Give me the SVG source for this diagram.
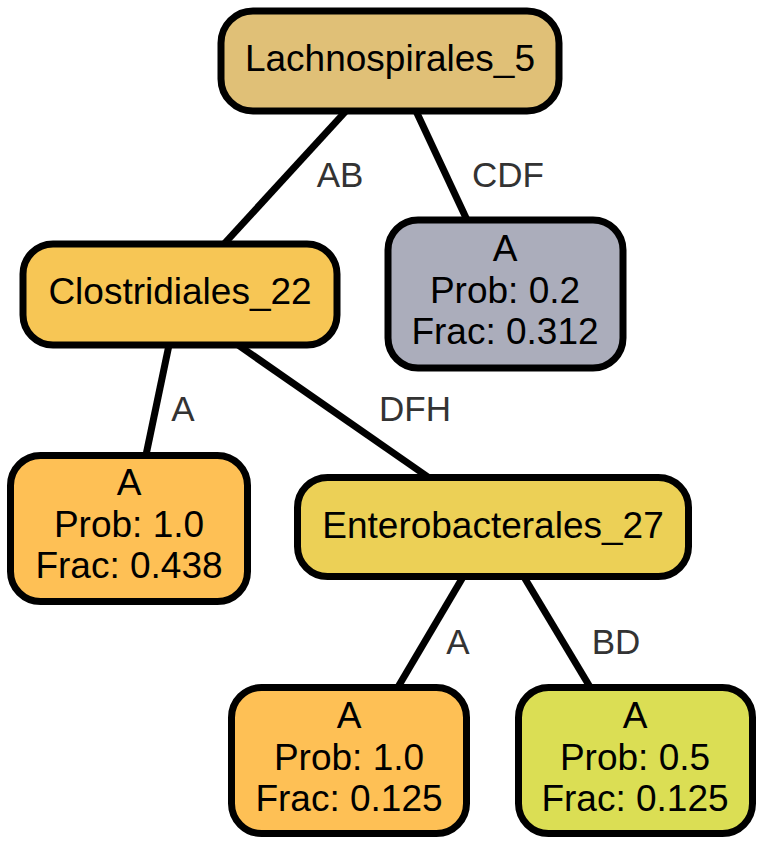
<svg xmlns="http://www.w3.org/2000/svg" width="764" height="846" viewBox="0 0 764 846">
<style>
.box{stroke:#000;stroke-width:7}
.nt{font-family:"Liberation Sans",Arial,sans-serif;font-size:37px;fill:#000;text-anchor:middle}
.et{font-family:"Liberation Sans",Arial,sans-serif;font-size:35px;fill:#333;text-anchor:middle}
.edge{stroke:#000;stroke-width:7;fill:none}
</style>
<rect width="764" height="846" fill="#fff"/>
<g id="edges">
<line class="edge" x1="346" y1="111" x2="224" y2="244"/>
<line class="edge" x1="416" y1="111" x2="467" y2="220"/>
<line class="edge" x1="169" y1="345" x2="146" y2="455"/>
<line class="edge" x1="238" y1="345" x2="428" y2="477"/>
<line class="edge" x1="463" y1="577" x2="398" y2="687"/>
<line class="edge" x1="524" y1="577" x2="590" y2="687"/>
<text class="et" x="340" y="187">AB</text>
<text class="et" x="508" y="187">CDF</text>
<text class="et" x="183" y="421">A</text>
<text class="et" x="415" y="421">DFH</text>
<text class="et" x="458" y="654">A</text>
<text class="et" x="616" y="654">BD</text>
</g>
<g id="n_lachno">
<rect class="box" x="221" y="11" width="338" height="100" rx="32" fill="#E0C077"/>
<text class="nt" x="390" y="71">Lachnospirales_5</text>
</g>
<g id="n_clostr">
<rect class="box" x="23" y="244" width="314" height="101" rx="30" fill="#F7C655"/>
<text class="nt" x="180" y="304">Clostridiales_22</text>
</g>
<g id="n_leaf_gray">
<rect class="box" x="388" y="220" width="235" height="148" rx="30" fill="#ABADBB"/>
<text class="nt" x="505" y="261">A</text>
<text class="nt" x="505" y="303">Prob: 0.2</text>
<text class="nt" x="505" y="344">Frac: 0.312</text>
</g>
<g id="n_leaf1">
<rect class="box" x="10.5" y="455.5" width="237" height="146" rx="30" fill="#FEC055"/>
<text class="nt" x="129" y="495">A</text>
<text class="nt" x="129" y="537">Prob: 1.0</text>
<text class="nt" x="129" y="578">Frac: 0.438</text>
</g>
<g id="n_entero">
<rect class="box" x="297.5" y="477.5" width="391" height="99" rx="30" fill="#ECD056"/>
<text class="nt" x="493" y="538">Enterobacterales_27</text>
</g>
<g id="n_leaf2">
<rect class="box" x="231.5" y="687.5" width="235" height="146" rx="30" fill="#FEC055"/>
<text class="nt" x="349" y="728">A</text>
<text class="nt" x="349" y="770">Prob: 1.0</text>
<text class="nt" x="349" y="811">Frac: 0.125</text>
</g>
<g id="n_leaf3">
<rect class="box" x="518.5" y="687.5" width="234" height="146" rx="30" fill="#DBDE54"/>
<text class="nt" x="635" y="728">A</text>
<text class="nt" x="635" y="770">Prob: 0.5</text>
<text class="nt" x="635" y="811">Frac: 0.125</text>
</g>
</svg>
